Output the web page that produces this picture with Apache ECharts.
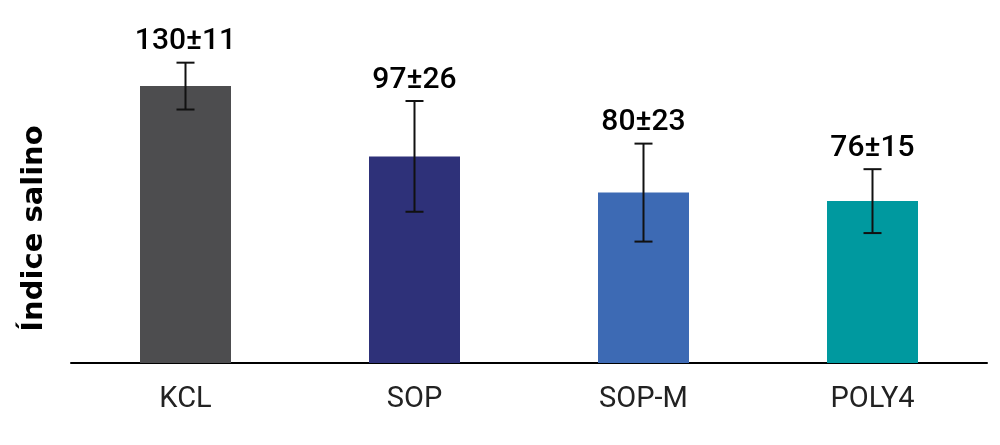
<!DOCTYPE html>
<html>
<head>
<meta charset="utf-8">
<script src="https://cdn.jsdelivr.net/npm/echarts@6/dist/echarts.min.js"></script>
<style>html,body{margin:0;padding:0;background:#fff;}#c{width:1000px;height:445px;}</style>
</head>
<body>
<div id="c"></div>
<script>
const categories = ['KCL', 'SOP', 'SOP-M', 'POLY4'];
const values = [130, 97, 80, 76];
const errors = [11, 26, 23, 15];
const colors = ['#4d4d4f', '#2e3179', '#3d6ab4', '#00999f'];
const yLabel = 'Índice salino';

const chart = echarts.init(document.getElementById('c'), null, {renderer: 'canvas'});
const FONT = 'Roboto';

chart.setOption({
  animation: false,
  backgroundColor: '#fff',
  grid: {left: 71, right: 13, top: 43.5, bottom: 82, containLabel: false},
  graphic: [{
    type: 'text',
    x: 49, y: 228.5,
    rotation: Math.PI / 2,
    style: {text: yLabel, fill: '#000', font: 'bold 29px "DejaVu Sans"', textAlign: 'center', textVerticalAlign: 'bottom'}
  }],
  xAxis: {
    type: 'category',
    data: categories,
    axisLine: {lineStyle: {color: '#000', width: 2}},
    axisTick: {show: false},
    axisLabel: {color: '#222', fontSize: 29, fontFamily: FONT, margin: 22}
  },
  yAxis: {
    type: 'value',
    min: 0, max: 150,
    axisLine: {show: false},
    axisTick: {show: false},
    axisLabel: {show: false},
    splitLine: {show: false}
  },
  series: [
    {
      type: 'bar',
      barWidth: 91,
      data: values.map((v, i) => ({value: v, itemStyle: {color: colors[i]}}))
    },
    {
      type: 'custom',
      data: values.map((v, i) => [i, v, errors[i]]),
      renderItem: function (params, api) {
        const i = api.value(0), v = api.value(1), e = api.value(2);
        const hi = api.coord([i, v + e]);
        const lo = api.coord([i, v - e]);
        const hw = 9;
        const st = {stroke: '#111', lineWidth: 2};
        return {
          type: 'group',
          children: [
            {type: 'line', shape: {x1: hi[0], y1: hi[1], x2: lo[0], y2: lo[1]}, style: st},
            {type: 'line', shape: {x1: hi[0] - hw, y1: hi[1], x2: hi[0] + hw, y2: hi[1]}, style: st},
            {type: 'line', shape: {x1: lo[0] - hw, y1: lo[1], x2: lo[0] + hw, y2: lo[1]}, style: st},
            {type: 'text', x: hi[0], y: hi[1] - 6,
             style: {text: v + '±' + e, fill: '#000', font: '500 30px ' + FONT, textAlign: 'center', textVerticalAlign: 'bottom'}}
          ]
        };
      },
      z: 5
    }
  ]
});
</script>
</body>
</html>
